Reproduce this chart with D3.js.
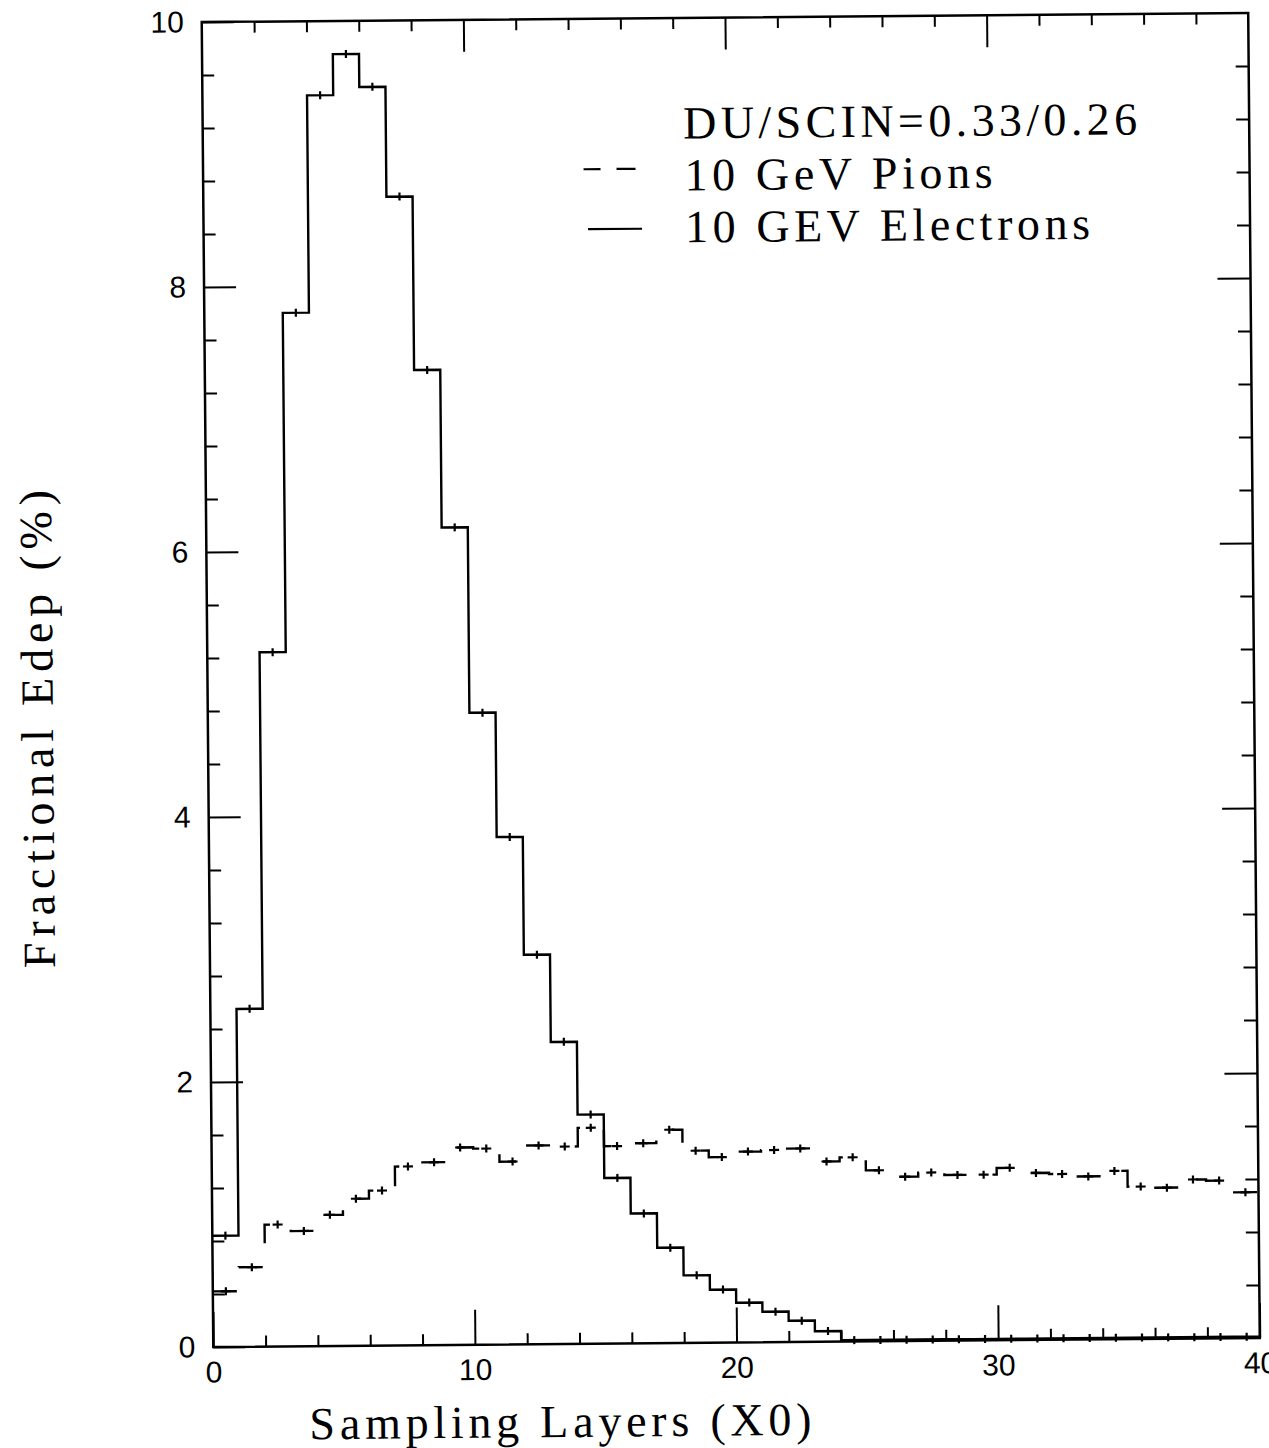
<!DOCTYPE html>
<html>
<head>
<meta charset="utf-8">
<script src="https://cdn.jsdelivr.net/npm/d3@7"></script>
<style>
  body { margin: 0; background: #fff; }
  svg { display: block; }
  .frame { fill: none; stroke: #000; stroke-width: 2.5; }
  .tick line { stroke: #000; stroke-width: 2; }
  .hist { fill: none; stroke: #000; stroke-width: 2.4; }
  .err { stroke: #000; stroke-width: 2.2; }
  .lbl { font-family: "Liberation Serif", "Times New Roman", serif; fill: #000; }
</style>
</head>
<body>
<div id="d3-target"></div>
<script>
// layers (lower bin edge, X0), one bin per layer
const layers = d3.range(0, 40);

// fractional energy deposit (%) per layer
const electrons = [0.84, 2.55, 5.24, 7.80, 9.44, 9.75, 9.50, 8.67, 7.36, 6.17,
  4.77, 3.83, 2.94, 2.28, 1.73, 1.25, 0.98, 0.72, 0.51, 0.40,
  0.30, 0.23, 0.16, 0.08, 0.01, 0.01, 0.01, 0.01, 0.01, 0.01,
  0.01, 0.01, 0.01, 0.01, 0.01, 0.01, 0.01, 0.01, 0.01, 0.01];
const pions = [0.42, 0.60, 0.92, 0.87, 0.99, 1.11, 1.17, 1.35, 1.38, 1.49,
  1.48, 1.38, 1.50, 1.49, 1.63, 1.49, 1.51, 1.61, 1.45, 1.40,
  1.44, 1.45, 1.46, 1.36, 1.39, 1.29, 1.24, 1.27, 1.25, 1.25,
  1.30, 1.26, 1.25, 1.23, 1.27, 1.15, 1.14, 1.20, 1.19, 1.10];

const xMajorTicks = [0, 10, 20, 30, 40];
const xTickLabels = ['0', '10', '20', '30', '40'];
const xMinorTicks = [2, 4, 6, 8, 12, 14, 16, 18, 22, 24, 26, 28, 32, 34, 36, 38];
const yMajorTicks = [0, 2, 4, 6, 8, 10];
const yTickLabels = ['0', '2', '4', '6', '8', '10'];
const yMinorTicks = [0.4, 0.8, 1.2, 1.6, 2.4, 2.8, 3.2, 3.6, 4.4, 4.8, 5.2, 5.6,
  6.4, 6.8, 7.2, 7.6, 8.4, 8.8, 9.2, 9.6];

const legendTitle = 'DU/SCIN=0.33/0.26';
const legendItems = [
  {label: '10 GeV Pions', dashed: true, len: 308},
  {label: '10 GEV Electrons', dashed: false, len: 405}
];

const margin = {top: 17.5, left: 207.5},
  width = 1046.5,
  height = 1325;

const x = d3.scaleLinear().domain([0, 40]).range([0, width]);
const y = d3.scaleLinear().domain([0, 10]).range([height, 0]);

const svgTop = d3.select('#d3-target')
  .append('svg')
  .attr('width', 1269)
  .attr('height', 1448);

// the scanned original is a little tilted
const page = svgTop.append('g')
  .attr('transform', 'rotate(-0.5, 730, 680)');

const svg = page.append('g')
  .attr('transform', `translate(${margin.left},${margin.top})`);

const styleAxis = (g, labels) => {
  g.select('.domain').remove();
  g.attr('font-family', '"Liberation Sans", Arial, sans-serif')
   .attr('font-size', 30);
  if (!labels) g.selectAll('text').remove();
};

// bottom
svg.append('g').attr('transform', `translate(0,${height})`)
  .call(d3.axisBottom(x).tickValues(xMinorTicks).tickSize(-11).tickFormat(''))
  .call(g => styleAxis(g, false));
svg.append('g').attr('transform', `translate(0,${height})`)
  .call(d3.axisBottom(x).tickValues(xMajorTicks).tickSize(-35).tickPadding(14)
    .tickFormat((d, i) => xTickLabels[i]))
  .call(g => styleAxis(g, true));
// top
svg.append('g')
  .call(d3.axisTop(x).tickValues(xMinorTicks).tickSize(-11).tickFormat(''))
  .call(g => styleAxis(g, false));
svg.append('g')
  .call(d3.axisTop(x).tickValues(xMajorTicks.slice(1, 4)).tickSize(-32).tickFormat(''))
  .call(g => styleAxis(g, false));
// left
svg.append('g')
  .call(d3.axisLeft(y).tickValues(yMinorTicks).tickSize(-12).tickFormat(''))
  .call(g => styleAxis(g, false));
svg.append('g')
  .call(d3.axisLeft(y).tickValues(yMajorTicks).tickSize(-32).tickPadding(18)
    .tickFormat((d, i) => yTickLabels[i]))
  .call(g => styleAxis(g, true));
// right
svg.append('g').attr('transform', `translate(${width},0)`)
  .call(d3.axisRight(y).tickValues(yMinorTicks).tickSize(-13).tickFormat(''))
  .call(g => styleAxis(g, false));
svg.append('g').attr('transform', `translate(${width},0)`)
  .call(d3.axisRight(y).tickValues(yMajorTicks.slice(1, 5)).tickSize(-33).tickFormat(''))
  .call(g => styleAxis(g, false));

svg.append('rect')
  .attr('class', 'frame')
  .attr('width', width)
  .attr('height', height);

// histograms
const stepPoints = vals => layers.map(i => [i, vals[i]]).concat([[40, vals[39]]]);

const step = d3.line()
  .x(d => x(d[0]))
  .y(d => y(d[1]))
  .curve(d3.curveStepAfter);

svg.append('path')
  .datum(stepPoints(electrons))
  .attr('class', 'hist')
  .attr('d', step);

svg.append('path')
  .datum(stepPoints(pions))
  .attr('class', 'hist')
  .attr('stroke-dasharray', '24,26')
  .attr('d', step);

// error crosses at bin centres
const crosses = (vals, hw) => {
  const g = svg.append('g');
  layers.forEach(i => {
    const cx = x(i + 0.5), cy = y(vals[i]);
    g.append('line').attr('class', 'err')
      .attr('x1', cx).attr('x2', cx).attr('y1', cy - 4).attr('y2', cy + 4);
    if (hw) {
      g.append('line').attr('class', 'err')
        .attr('x1', cx - hw).attr('x2', cx + hw).attr('y1', cy).attr('y2', cy);
    }
  });
};
crosses(electrons, 0);
crosses(pions, 5);

// axis titles
page.append('text')
  .attr('class', 'lbl')
  .attr('font-size', 46)
  .attr('textLength', 502)
  .attr('lengthAdjust', 'spacing')
  .attr('transform', 'translate(303,1435.5)')
  .text('Sampling Layers (X0)');

page.append('text')
  .attr('class', 'lbl')
  .attr('font-size', 46)
  .attr('textLength', 478)
  .attr('lengthAdjust', 'spacing')
  .attr('transform', 'translate(52.5,962) rotate(-90)')
  .text('Fractional Edep (%)');

// legend
const legend = page.append('g').attr('class', 'legend');
legend.append('text')
  .attr('class', 'lbl')
  .attr('font-size', 46)
  .attr('textLength', 454)
  .attr('lengthAdjust', 'spacing')
  .attr('transform', 'translate(688,138)')
  .text(legendTitle);

legend.selectAll('.legend-line')
  .data(legendItems)
  .enter().append('g')
    .attr('class', 'legend-line')
    .attr('transform', (d, i) => `translate(0, ${190 + 52 * i})`)
    .each(function(d) {
      const row = d3.select(this);
      if (d.dashed) {
        row.append('line').attr('class', 'err')
          .attr('x1', 588).attr('x2', 605).attr('y1', -22).attr('y2', -22);
        row.append('line').attr('class', 'err')
          .attr('x1', 621).attr('x2', 640).attr('y1', -22).attr('y2', -22);
      } else {
        row.append('line').attr('class', 'err')
          .attr('x1', 592).attr('x2', 646).attr('y1', -14).attr('y2', -14);
      }
      row.append('text')
        .attr('class', 'lbl')
        .attr('font-size', 46)
        .attr('textLength', d.len)
        .attr('lengthAdjust', 'spacing')
        .attr('transform', 'translate(689,0)')
        .text(d.label);
    });
</script>
</body>
</html>
